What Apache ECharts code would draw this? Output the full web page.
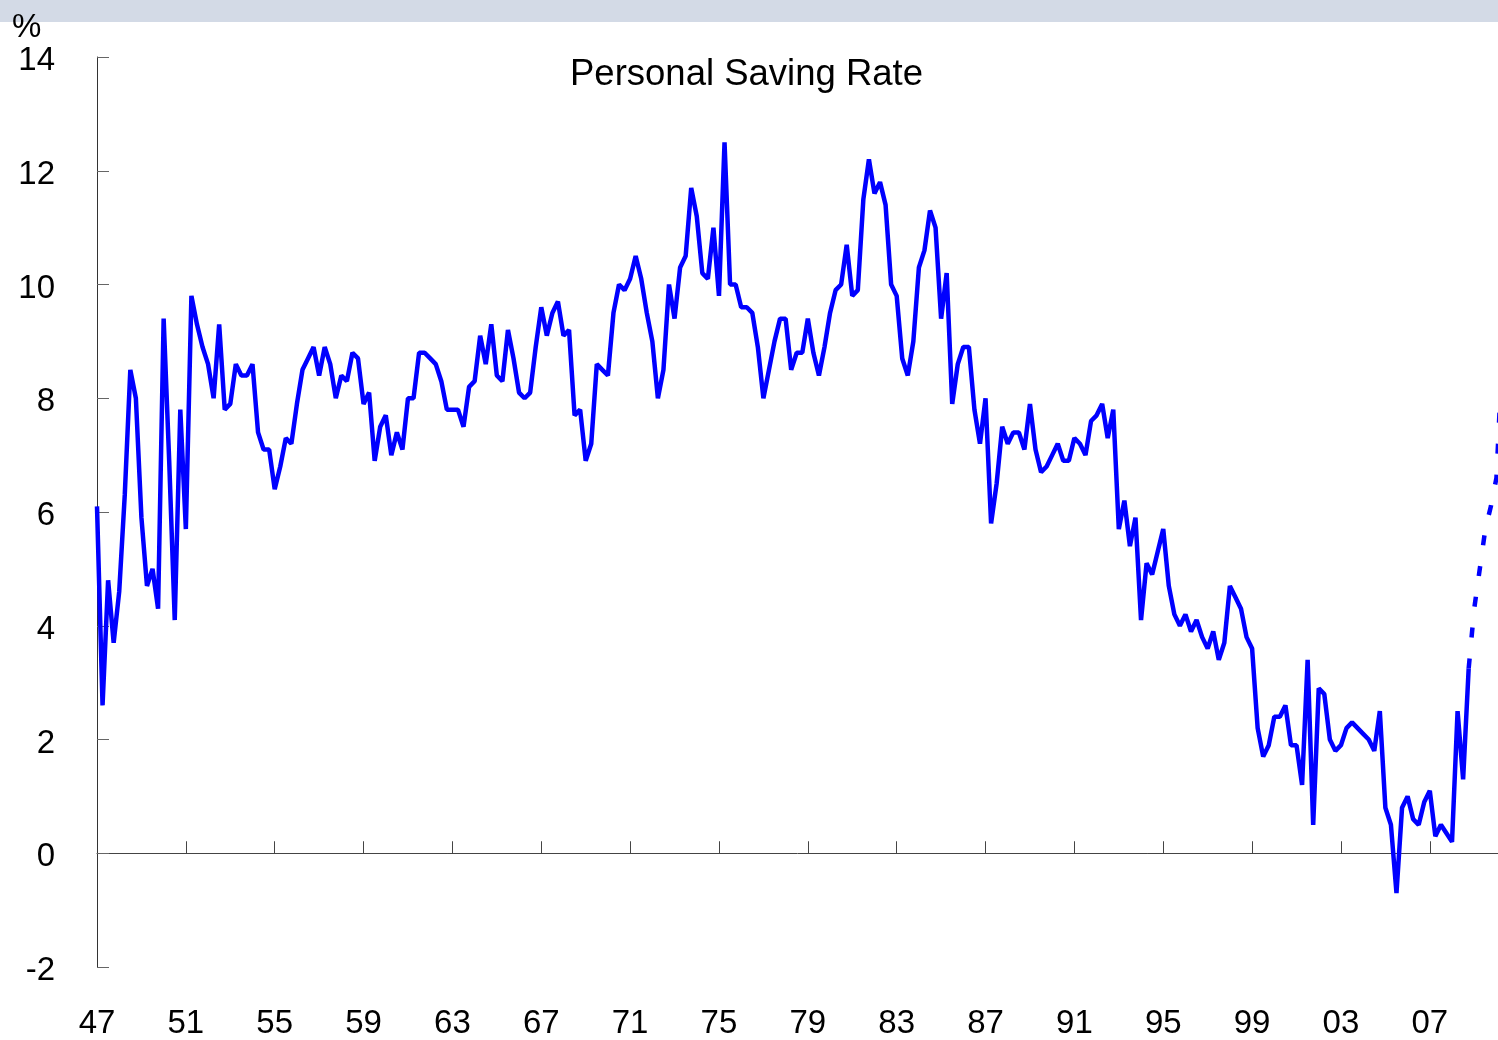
<!DOCTYPE html>
<html>
<head>
<meta charset="utf-8">
<title>Personal Saving Rate</title>
<script src="https://cdn.jsdelivr.net/npm/echarts@6/dist/echarts.min.js"></script>
<style>
	html, body { margin: 0; padding: 0; background: #fff; overflow: hidden; }
	#main { width: 1498px; height: 1040px; }
</style>
</head>
<body>
<div id="main"></div>
<script>
// quarterly personal saving rate, %, starting 1947 Q1
const startYear = 1947;
const savingRate = [
	6.1, 2.6, 4.8, 3.7, // 47
	4.6, 6.3, 8.5, 8.0,
	5.9, 4.7, 5.0, 4.3,
	9.4, 6.9, 4.1, 7.8, // 50
	5.7, 9.8, 9.3, 8.9,
	8.6, 8.0, 9.3, 7.8,
	7.9, 8.6, 8.4, 8.4,
	8.6, 7.4, 7.1, 7.1,
	6.4, 6.8, 7.3, 7.2, // 55
	7.9, 8.5, 8.7, 8.9,
	8.4, 8.9, 8.6, 8.0,
	8.4, 8.3, 8.8, 8.7,
	7.9, 8.1, 6.9, 7.5,
	7.7, 7.0, 7.4, 7.1, // 60
	8.0, 8.0, 8.8, 8.8,
	8.7, 8.6, 8.3, 7.8,
	7.8, 7.8, 7.5, 8.2,
	8.3, 9.1, 8.6, 9.3,
	8.4, 8.3, 9.2, 8.7, // 65
	8.1, 8.0, 8.1, 8.9,
	9.6, 9.1, 9.5, 9.7,
	9.1, 9.2, 7.7, 7.8,
	6.9, 7.2, 8.6, 8.5,
	8.4, 9.5, 10.0, 9.9, // 70
	10.1, 10.5, 10.1, 9.5,
	9.0, 8.0, 8.5, 10.0,
	9.4, 10.3, 10.5, 11.7,
	11.2, 10.2, 10.1, 11.0,
	9.8, 12.5, 10.0, 10.0, // 75
	9.6, 9.6, 9.5, 8.9,
	8.0, 8.5, 9.0, 9.4,
	9.4, 8.5, 8.8, 8.8,
	9.4, 8.8, 8.4, 8.9,
	9.5, 9.9, 10.0, 10.7, // 80
	9.8, 9.9, 11.5, 12.2,
	11.6, 11.8, 11.4, 10.0,
	9.8, 8.7, 8.4, 9.0,
	10.3, 10.6, 11.3, 11.0,
	9.4, 10.2, 7.9, 8.6, // 85
	8.9, 8.9, 7.8, 7.2,
	8.0, 5.8, 6.5, 7.5,
	7.2, 7.4, 7.4, 7.1,
	7.9, 7.1, 6.7, 6.8,
	7.0, 7.2, 6.9, 6.9, // 90
	7.3, 7.2, 7.0, 7.6,
	7.7, 7.9, 7.3, 7.8,
	5.7, 6.2, 5.4, 5.9,
	4.1, 5.1, 4.9, 5.3,
	5.7, 4.7, 4.2, 4.0, // 95
	4.2, 3.9, 4.1, 3.8,
	3.6, 3.9, 3.4, 3.7,
	4.7, 4.5, 4.3, 3.8,
	3.6, 2.2, 1.7, 1.9,
	2.4, 2.4, 2.6, 1.9, // 00
	1.9, 1.2, 3.4, 0.5,
	2.9, 2.8, 2.0, 1.8,
	1.9, 2.2, 2.3, 2.2,
	2.1, 2.0, 1.8, 2.5,
	0.8, 0.5, -0.7, 0.8, // 05
	1.0, 0.6, 0.5, 0.9,
	1.1, 0.3, 0.5, 0.35,
	0.2, 2.5, 1.3, 3.25
];
// projection, starts at last actual quarter (2008 Q4)
const forecastStart = 2008.75;
const forecast = [3.25, 4.3, 5.0, 5.7, 6.1, 6.6, 8.7];

const yTicks = { min: -2, max: 14, step: 2 };
const xRange = { min: 1947, max: 2010.07 };
const labelYears = [1947, 1951, 1955, 1959, 1963, 1967, 1971, 1975, 1979, 1983, 1987, 1991, 1995, 1999, 2003, 2007];
const tickYears = labelYears.slice(1);

const font = "'Liberation Sans', Arial, sans-serif";

const chartDom = document.getElementById('main');
const myChart = echarts.init(chartDom);

let actualData = [];
for (let i = 0; i < savingRate.length; i++) {
	actualData.push([startYear + i / 4, savingRate[i]]);
}
let forecastData = [];
for (let i = 0; i < forecast.length; i++) {
	forecastData.push([forecastStart + i / 4, forecast[i]]);
}

let yearLabel = function(v) {
	return String(Math.round(v) % 100).padStart(2, '0');
};

let option = {
	animation: false,
	backgroundColor: '#fff',
	textStyle: { fontFamily: font },
	title: {
		text: 'Personal Saving Rate',
		left: 565,
		top: 51,
		textStyle: {
			fontFamily: font,
			fontSize: 36.5,
			fontWeight: 'normal',
			color: '#000'
		}
	},
	graphic: [
		{
			type: 'rect',
			left: 0,
			top: 0,
			z: -1,
			shape: { width: 1498, height: 22 },
			style: { fill: '#D3DAE6' }
		},
		{
			type: 'text',
			left: 12,
			top: 11,
			style: { text: '%', font: '33px ' + font, fill: '#000' }
		}
	],
	grid: {
		left: 97,
		right: 0,
		top: 57,
		bottom: 73
	},
	xAxis: [
		{
			// labels along the bottom
			type: 'value',
			min: xRange.min,
			max: xRange.max,
			position: 'bottom',
			axisLine: { show: false, onZero: false },
			axisTick: { show: false },
			splitLine: { show: false },
			axisLabel: {
				customValues: labelYears,
				formatter: yearLabel,
				fontSize: 33,
				color: '#000',
				margin: 40,
				fontFamily: font
			}
		},
		{
			// line through zero with inner ticks
			type: 'value',
			min: xRange.min,
			max: xRange.max,
			position: 'bottom',
			axisLine: { show: true, onZero: true, lineStyle: { color: '#444', width: 1 } },
			axisTick: { show: true, inside: true, length: 12, customValues: tickYears, lineStyle: { color: '#444' } },
			splitLine: { show: false },
			axisLabel: { show: false }
		}
	],
	yAxis: {
		type: 'value',
		min: yTicks.min,
		max: yTicks.max,
		interval: yTicks.step,
		axisLine: { show: true, onZero: false, lineStyle: { color: '#333', width: 1 } },
		axisTick: { show: true, inside: true, length: 12, lineStyle: { color: '#666' } },
		splitLine: { show: false },
		axisLabel: {
			color: '#000',
			margin: 42,
			formatter: (v) => '{n|' + v + '}',
			rich: {
				n: {
					fontSize: 33,
					color: '#000',
					fontFamily: font,
					padding: [8, 0, 0, 0]
				}
			}
		}
	},
	series: [
		{
			name: 'Actual',
			type: 'line',
			xAxisIndex: 0,
			data: actualData,
			showSymbol: false,
			lineStyle: { color: '#0000FF', width: 4.5 },
			itemStyle: { color: '#0000FF' }
		},
		{
			name: 'Forecast',
			type: 'line',
			xAxisIndex: 0,
			data: forecastData,
			showSymbol: false,
			lineStyle: { color: '#0000FF', width: 4.5, type: [10, 21] },
			itemStyle: { color: '#0000FF' }
		}
	]
};

option && myChart.setOption(option);
</script>
</body>
</html>
